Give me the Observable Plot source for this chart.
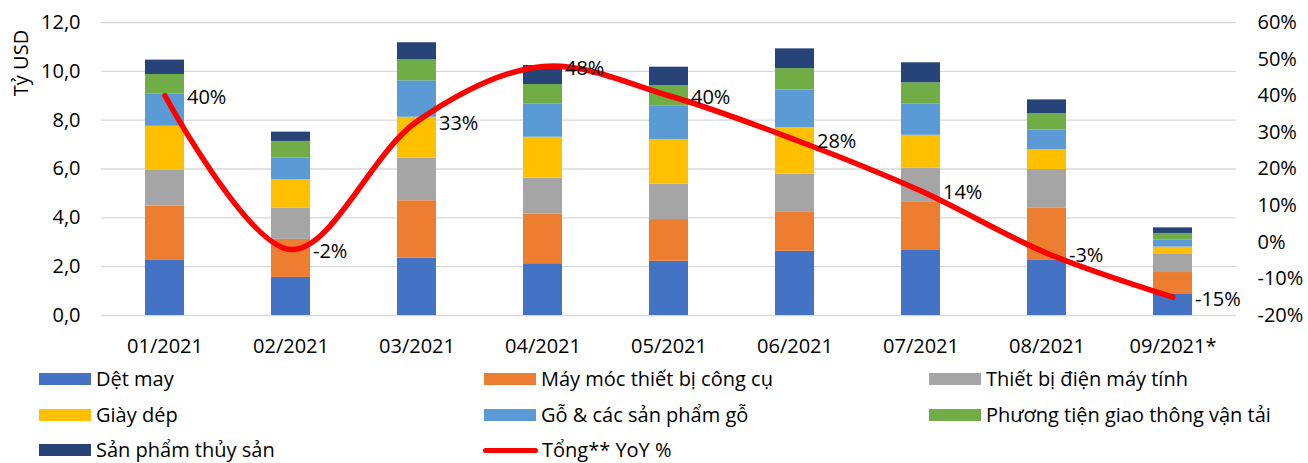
<!DOCTYPE html>
<html>
<head>
<meta charset="utf-8">
<script src="https://cdn.jsdelivr.net/npm/d3@7"></script>
<script src="https://cdn.jsdelivr.net/npm/@observablehq/plot@0.6"></script>
<style>
  html, body { margin: 0; padding: 0; background: #fff; }
  body { font-family: "Open Sans", sans-serif; }
  #wrap { position: relative; width: 1308px; height: 463px; overflow: hidden; }
  #ytitle { position: absolute; left: 20px; top: 63px; transform: translate(-50%, -50%) rotate(-90deg); font-size: 20px; color: #000; white-space: nowrap; }
  .lg { position: absolute; display: flex; align-items: center; font-size: 20px; line-height: 22px; color: #000; white-space: nowrap; transform: translateY(-50%); }
  .sw { width: 52px; height: 12px; margin-right: 5px; }
  .ln { width: 55px; height: 5px; border-radius: 3px; margin-right: 4px; background: #ff0000; }
</style>
</head>
<body>
<div id="wrap">
  <div id="chart"></div>
  <div id="ytitle">Tỷ USD</div>
  <div id="legend"></div>
</div>
<script>
// ---- Data ----
const months = ["01/2021", "02/2021", "03/2021", "04/2021", "05/2021", "06/2021", "07/2021", "08/2021", "09/2021*"];
const seriesNames = [
  "Dệt may",
  "Máy móc thiết bị công cụ",
  "Thiết bị điện máy tính",
  "Giày dép",
  "Gỗ & các sản phẩm gỗ",
  "Phương tiện giao thông vận tải",
  "Sản phẩm thủy sản"
];
const detMay      = [2.28, 1.56, 2.35, 2.12, 2.22, 2.63, 2.69, 2.28, 0.86];
const mayMoc      = [2.20, 1.56, 2.35, 2.04, 1.71, 1.62, 1.97, 2.11, 0.90];
const thietBiDien = [1.46, 1.27, 1.74, 1.46, 1.45, 1.54, 1.37, 1.59, 0.74];
const giayDep     = [1.81, 1.18, 1.68, 1.68, 1.83, 1.91, 1.35, 0.81, 0.30];
const go          = [1.31, 0.89, 1.49, 1.37, 1.38, 1.54, 1.29, 0.81, 0.30];
const phuongTien  = [0.81, 0.67, 0.86, 0.79, 0.83, 0.87, 0.86, 0.67, 0.26];
const thuySan     = [0.59, 0.38, 0.70, 0.78, 0.75, 0.81, 0.82, 0.56, 0.23];
const yoy         = [40, -2, 33, 48, 40, 28, 14, -3, -15];
const lineName = "Tổng** YoY %";
const colors = ["#4472C4", "#ED7D31", "#A5A5A5", "#FFC000", "#5B9BD5", "#70AD47", "#264478"];
const leftTicks = [0, 2, 4, 6, 8, 10, 12];
const rightTicks = [-20, -10, 0, 10, 20, 30, 40, 50, 60];

// ---- Build tables ----
const seriesValues = [detMay, mayMoc, thietBiDien, giayDep, go, phuongTien, thuySan];
const stacked = [];
seriesNames.forEach((name, i) => {
  months.forEach((m, j) => stacked.push({month: m, series: name, value: seriesValues[i][j]}));
});
const lineData = months.map((m, j) => ({month: m, yoy: yoy[j]}));

// map the percentage (right axis, -20..60) onto the left axis (0..12)
const pctToY = p => (p + 20) * 12 / 80;

const font = "Open Sans";
const chart = Plot.plot({
  width: 1308,
  height: 362,
  marginTop: 22,
  marginBottom: 47,
  marginLeft: 101,
  marginRight: 72,
  style: {fontFamily: font, fontSize: "20px", color: "#000", background: "transparent"},
  x: {domain: months, paddingInner: 0.69, paddingOuter: 0.345},
  y: {domain: [0, 12]},
  color: {domain: seriesNames, range: colors},
  marks: [
    Plot.gridY(leftTicks, {stroke: "#d9d9d9", strokeOpacity: 1, strokeWidth: 1.4}),
    Plot.barY(stacked, {x: "month", y: "value", fill: "series", order: null}),
    Plot.line(lineData, {x: "month", y: d => pctToY(d.yoy), stroke: "#ff0000", strokeWidth: 5.5, curve: "catmull-rom", strokeLinecap: "round"}),
    Plot.text(lineData, {x: "month", y: d => pctToY(d.yoy), text: d => `${d.yoy}%`, dx: 22, dy: 2, textAnchor: "start", fill: "#000", fontSize: 20}),
    Plot.axisX({tickSize: 0, tickPadding: 23, label: null, fontSize: 20}),
    Plot.axisY(leftTicks, {anchor: "left", tickSize: 0, tickPadding: 21, label: null, fontSize: 20,
      tickFormat: d => d3.format(".1f")(d).replace(".", ",")}),
    Plot.axisY(rightTicks.map(pctToY), {anchor: "right", tickSize: 0, tickPadding: 21, label: null, fontSize: 20,
      tickFormat: d => `${Math.round(d * 80 / 12 - 20)}%`})
  ]
});
document.getElementById("chart").appendChild(chart);

// ---- Legend ----
const legendItems = seriesNames.map((n, i) => ({name: n, color: colors[i], type: "rect"}));
legendItems.push({name: lineName, color: "#ff0000", type: "line"});
const colX = [39, 484, 929];
const rowY = [379, 415, 450];
const legend = document.getElementById("legend");
legendItems.forEach((it, k) => {
  const el = document.createElement("div");
  el.className = "lg";
  el.style.left = (colX[k % 3] - (it.type === "line" ? 1 : 0)) + "px";
  el.style.top = rowY[Math.floor(k / 3)] + "px";
  const sw = document.createElement("span");
  if (it.type === "line") { sw.className = "ln"; }
  else { sw.className = "sw"; sw.style.background = it.color; }
  el.appendChild(sw);
  const t = document.createElement("span");
  t.textContent = it.name;
  el.appendChild(t);
  legend.appendChild(el);
});
</script>
</body>
</html>
